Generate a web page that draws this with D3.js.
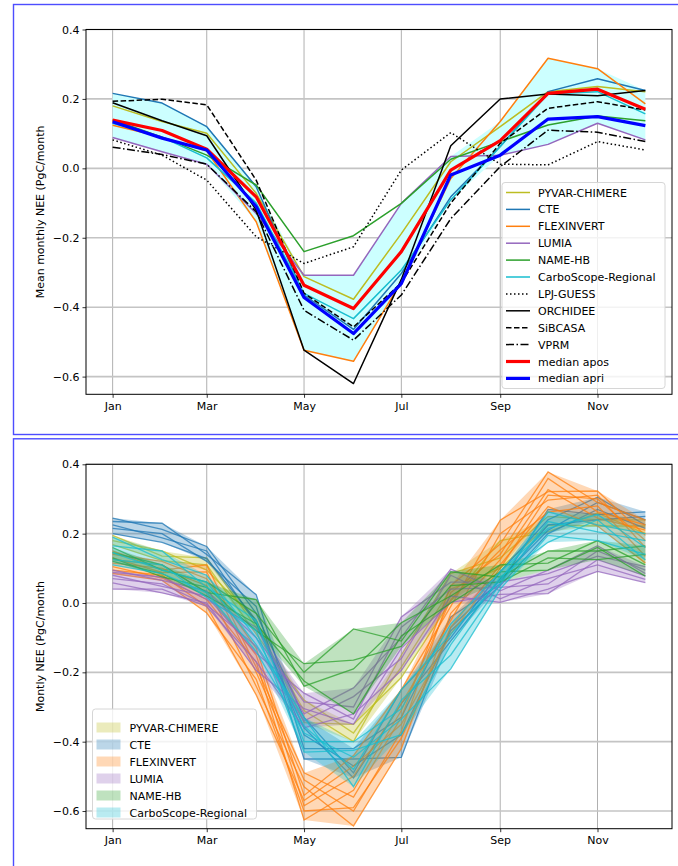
<!DOCTYPE html>
<html><head><meta charset="utf-8">
<script src="https://cdn.jsdelivr.net/npm/d3@7"></script>
<style>
html,body{margin:0;padding:0;background:#fff;}
svg{display:block;font-family:"DejaVu Sans",sans-serif;}
</style></head>
<body>
<svg id="chart" width="678" height="866"></svg>
<script>
// ---------- DATA ----------
const monthIdx = [0,1,2,3,4,5,6,7,8,9,10,11];
const tickMonths = [0,2,4,6,8,10];
const tickLabels = ["Jan","Mar","May","Jul","Sep","Nov"];
const yTicks = [0.4,0.2,0.0,-0.2,-0.4,-0.6];

// top panel: per-model mean series
const pyvarChimere = [0.180,0.135,0.101,-0.072,-0.312,-0.377,-0.188,0.019,0.120,0.221,0.236,0.221];
const cte          = [0.216,0.188,0.120,-0.053,-0.365,-0.464,-0.303,-0.082,0.063,0.221,0.258,0.224];
const flexinvert   = [0.124,0.090,0.050,-0.154,-0.524,-0.556,-0.327,-0.029,0.135,0.317,0.287,0.186];
const lumia        = [0.089,0.048,0.012,-0.130,-0.308,-0.308,-0.101,0.034,0.038,0.069,0.130,0.082];
const nameHB       = [0.140,0.090,0.038,-0.048,-0.240,-0.194,-0.101,0.026,0.077,0.125,0.151,0.137];
const carboScope   = [0.130,0.090,0.030,-0.100,-0.360,-0.433,-0.293,-0.091,0.063,0.214,0.221,0.157];
const lpjGuess     = [0.082,0.038,-0.034,-0.197,-0.274,-0.226,-0.005,0.103,0.012,0.010,0.077,0.053];
const orchidee     = [0.189,0.137,0.094,-0.120,-0.524,-0.620,-0.320,0.065,0.200,0.214,0.209,0.224];
const sibcasa      = [0.193,0.199,0.183,-0.034,-0.360,-0.457,-0.330,-0.100,0.072,0.173,0.192,0.168];
const vprm         = [0.061,0.040,0.012,-0.125,-0.409,-0.495,-0.365,-0.145,0.005,0.110,0.104,0.077];
const medianApos   = [0.139,0.109,0.055,-0.082,-0.337,-0.404,-0.240,-0.005,0.080,0.216,0.228,0.170];
const medianApri   = [0.134,0.087,0.053,-0.110,-0.372,-0.476,-0.332,-0.019,0.038,0.142,0.149,0.123];

// bottom panel: ensemble members per inversion system
const pyvarMembers = [
  [0.195,0.135,0.130,-0.070,-0.310,-0.400,-0.150,0.085,0.130,0.250,0.240,0.240],
  [0.180,0.150,0.095,-0.050,-0.345,-0.350,-0.215,0.005,0.180,0.205,0.260,0.200],
  [0.168,0.122,0.110,-0.090,-0.280,-0.375,-0.185,0.040,0.100,0.225,0.222,0.222]
];
const cteMembers = [
  [0.245,0.212,0.163,-0.030,-0.330,-0.490,-0.250,-0.100,0.090,0.240,0.305,0.225],
  [0.235,0.230,0.140,0.024,-0.420,-0.420,-0.330,-0.040,0.055,0.270,0.255,0.263],
  [0.225,0.188,0.150,-0.060,-0.360,-0.505,-0.290,-0.110,0.070,0.210,0.290,0.240],
  [0.215,0.200,0.120,-0.010,-0.450,-0.450,-0.445,-0.070,0.065,0.225,0.240,0.250],
  [0.200,0.175,0.128,-0.050,-0.380,-0.470,-0.380,-0.080,0.050,0.200,0.270,0.215]
];
const flexMembers = [
  [0.150,0.095,0.110,-0.185,-0.490,-0.560,-0.330,0.050,0.170,0.378,0.290,0.239],
  [0.140,0.120,0.070,-0.130,-0.555,-0.440,-0.250,-0.010,0.239,0.321,0.323,0.195],
  [0.130,0.088,0.090,-0.200,-0.510,-0.600,-0.370,0.030,0.140,0.359,0.263,0.225],
  [0.125,0.110,0.030,-0.150,-0.585,-0.500,-0.290,-0.050,0.200,0.297,0.311,0.160],
  [0.115,0.100,0.050,-0.240,-0.530,-0.643,-0.420,-0.030,0.125,0.327,0.245,0.210],
  [0.105,0.072,0.010,-0.170,-0.626,-0.540,-0.310,0.010,0.153,0.262,0.280,0.135],
  [0.095,0.080,-0.010,-0.265,-0.570,-0.470,-0.350,-0.090,0.100,0.311,0.300,0.180],
  [0.085,0.065,-0.029,-0.220,-0.600,-0.590,-0.390,-0.070,0.110,0.278,0.222,0.115]
];
const lumiaMembers = [
  [0.095,0.065,0.035,-0.100,-0.285,-0.300,-0.040,0.060,0.060,0.085,0.135,0.105],
  [0.088,0.075,0.010,-0.070,-0.320,-0.245,-0.100,0.098,0.035,0.095,0.165,0.085],
  [0.080,0.048,0.020,-0.145,-0.260,-0.335,-0.070,0.040,0.045,0.055,0.150,0.095],
  [0.070,0.055,-0.005,-0.125,-0.340,-0.270,-0.160,0.080,0.012,0.070,0.110,0.068],
  [0.058,0.029,0.000,-0.195,-0.305,-0.350,-0.130,0.002,0.025,0.027,0.125,0.078],
  [0.040,0.040,-0.010,-0.170,-0.360,-0.320,-0.195,0.020,0.002,0.040,0.091,0.059]
];
const nameMembers = [
  [0.160,0.095,0.060,-0.030,-0.200,-0.075,-0.110,0.090,0.075,0.150,0.150,0.165],
  [0.145,0.110,0.030,0.010,-0.240,-0.190,-0.057,0.020,0.110,0.115,0.180,0.110],
  [0.130,0.075,0.045,-0.080,-0.175,-0.165,-0.125,0.050,0.060,0.130,0.125,0.140],
  [0.120,0.085,0.020,-0.060,-0.225,-0.320,-0.095,0.000,0.090,0.095,0.160,0.077]
];
const carboMembers = [
  [0.190,0.125,0.080,-0.100,-0.355,-0.480,-0.250,-0.090,0.065,0.263,0.225,0.200],
  [0.165,0.150,0.045,-0.050,-0.400,-0.400,-0.305,-0.060,0.090,0.215,0.255,0.160],
  [0.145,0.095,0.060,-0.120,-0.330,-0.530,-0.280,-0.150,0.055,0.235,0.205,0.180],
  [0.125,0.110,0.015,-0.080,-0.430,-0.425,-0.380,-0.120,0.075,0.175,0.240,0.124],
  [0.110,0.085,0.030,-0.140,-0.375,-0.445,-0.335,-0.190,0.040,0.195,0.180,0.140]
];

// ---------- STYLE TABLES ----------
const topSeries = [
  {name:"PYVAR-CHIMERE", v:pyvarChimere, color:"#bcbd22", w:1.5, dash:null},
  {name:"CTE", v:cte, color:"#1f77b4", w:1.5, dash:null},
  {name:"FLEXINVERT", v:flexinvert, color:"#ff7f0e", w:1.5, dash:null},
  {name:"LUMIA", v:lumia, color:"#9467bd", w:1.5, dash:null},
  {name:"NAME-HB", v:nameHB, color:"#2ca02c", w:1.5, dash:null},
  {name:"CarboScope-Regional", v:carboScope, color:"#17becf", w:1.5, dash:null},
  {name:"LPJ-GUESS", v:lpjGuess, color:"#000", w:1.5, dash:"1.5,2.5"},
  {name:"ORCHIDEE", v:orchidee, color:"#000", w:1.5, dash:null},
  {name:"SiBCASA", v:sibcasa, color:"#000", w:1.5, dash:"5.5,2.5"},
  {name:"VPRM", v:vprm, color:"#000", w:1.5, dash:"8,2.5,1.5,2.5"},
  {name:"median apos", v:medianApos, color:"#ff0000", w:3.2, dash:null},
  {name:"median apri", v:medianApri, color:"#0000ff", w:3.2, dash:null}
];
const envelopeModels = [pyvarChimere, cte, flexinvert, lumia, carboScope];
const ensembles = [
  {name:"PYVAR-CHIMERE", m:pyvarMembers, color:"#bcbd22"},
  {name:"CTE", m:cteMembers, color:"#1f77b4"},
  {name:"FLEXINVERT", m:flexMembers, color:"#ff7f0e"},
  {name:"LUMIA", m:lumiaMembers, color:"#9467bd"},
  {name:"NAME-HB", m:nameMembers, color:"#2ca02c"},
  {name:"CarboScope-Regional", m:carboMembers, color:"#17becf"}
];

// ---------- DRAW ----------
const FS = "11px";
const svg = d3.select("#chart");
const day = 86400000;
const t0 = Date.UTC(2018,0,1);
const dateOf = m => new Date(Date.UTC(2018, m, 1));

// blue panel frames
svg.append("rect").attr("x",13.5).attr("y",4.5).attr("width",700).attr("height",430)
  .attr("fill","none").attr("stroke","#4d4dff").attr("stroke-width",1.4);
svg.append("rect").attr("x",13.5).attr("y",438.8).attr("width",700).attr("height",440)
  .attr("fill","none").attr("stroke","#4d4dff").attr("stroke-width",1.4);

function makePanel(top, bottom, ylabel) {
  const x = d3.scaleUtc().domain([new Date(t0 - 16.7*day), new Date(t0 + 350.7*day)]).range([86, 672]);
  const y = d3.scaleLinear().domain([-0.651, 0.4]).range([bottom, top]);
  const g = svg.append("g");
  g.append("g").selectAll("line").data(tickMonths).join("line")
    .attr("x1", d => x(dateOf(d))).attr("x2", d => x(dateOf(d)))
    .attr("y1", top).attr("y2", bottom).attr("stroke","#b0b0b0").attr("stroke-width",1);
  g.append("g").selectAll("line").data(yTicks).join("line")
    .attr("x1",86).attr("x2",672).attr("y1", d => y(d)).attr("y2", d => y(d))
    .attr("stroke","#c4c4c4").attr("stroke-width",1.6);
  const cid = "clip" + Math.round(top);
  svg.append("clipPath").attr("id", cid).append("rect")
    .attr("x",86).attr("y",top).attr("width",586).attr("height",bottom-top);
  const plot = svg.append("g").attr("clip-path", `url(#${cid})`);
  return {x, y, g, plot, top, bottom, ylabel};
}

function finishPanel(p) {
  const axX = svg.append("g").attr("transform",`translate(0,${p.bottom})`)
    .call(d3.axisBottom(p.x).tickValues(tickMonths.map(dateOf)).tickFormat((d,i)=>tickLabels[i]).tickSize(3.5).tickPadding(4));
  const axY = svg.append("g").attr("transform",`translate(86,0)`)
    .call(d3.axisLeft(p.y).tickValues(yTicks).tickFormat(d3.format(".1f")).tickSize(3.5).tickPadding(3));
  [axX, axY].forEach(a => {
    a.select(".domain").remove();
    a.selectAll("line").attr("stroke","#000").attr("stroke-width",0.8);
    a.selectAll("text").attr("font-size",FS).attr("fill","#000").attr("font-family","DejaVu Sans");
  });
  svg.append("rect").attr("x",86).attr("y",p.top).attr("width",586).attr("height",p.bottom-p.top)
    .attr("fill","none").attr("stroke","#000").attr("stroke-width",1);
  svg.append("text").attr("transform",`translate(44,${(p.top+p.bottom)/2}) rotate(-90)`)
    .attr("text-anchor","middle").attr("font-size",FS).attr("fill","#000").text(p.ylabel);
}

// ---- top panel ----
const P1 = makePanel(29.5, 394.3, "Mean monthly NEE (PgC/month");
const env = monthIdx.map(i => ({m:i, lo:d3.min(envelopeModels, s=>s[i]), hi:d3.max(envelopeModels, s=>s[i])}));
P1.plot.append("path").datum(env)
  .attr("d", d3.area().x(d=>P1.x(dateOf(d.m))).y0(d=>P1.y(d.lo)).y1(d=>P1.y(d.hi)))
  .attr("fill","#ccffff").attr("stroke","none");
const line1 = d3.line().x((d,i)=>P1.x(dateOf(i))).y(d=>P1.y(d));
topSeries.forEach(s => {
  P1.plot.append("path").datum(s.v).attr("d", line1).attr("fill","none")
    .attr("stroke", s.color).attr("stroke-width", s.w)
    .attr("stroke-dasharray", s.dash).attr("stroke-linejoin","round");
});
finishPanel(P1);
{
  const lg = svg.append("g");
  lg.append("rect").attr("x",502).attr("y",182.5).attr("width",163).attr("height",206).attr("rx",3)
    .attr("fill","#fff").attr("fill-opacity",0.8).attr("stroke","#d6d6d6").attr("stroke-width",1);
  topSeries.forEach((s,i) => {
    const yy = 192.5 + i*16.9;
    lg.append("line").attr("x1",506).attr("x2",530).attr("y1",yy).attr("y2",yy)
      .attr("stroke",s.color).attr("stroke-width",s.w).attr("stroke-dasharray",s.dash);
    lg.append("text").attr("x",538).attr("y",yy+4).attr("font-size",FS).attr("fill","#000").text(s.name);
  });
}

// ---- bottom panel ----
const P2 = makePanel(464.3, 828.7, "Montly NEE (PgC/month");
const line2 = d3.line().x((d,i)=>P2.x(dateOf(i))).y(d=>P2.y(d));
ensembles.forEach(e => {
  const band = monthIdx.map(i => ({m:i, lo:d3.min(e.m, r=>r[i]), hi:d3.max(e.m, r=>r[i])}));
  P2.plot.append("path").datum(band)
    .attr("d", d3.area().x(d=>P2.x(dateOf(d.m))).y0(d=>P2.y(d.lo)).y1(d=>P2.y(d.hi)))
    .attr("fill", e.color).attr("fill-opacity",0.3);
  e.m.forEach(r => {
    P2.plot.append("path").datum(r).attr("d", line2).attr("fill","none")
      .attr("stroke", e.color).attr("stroke-opacity",0.75).attr("stroke-width",1.3);
  });
});
finishPanel(P2);
{
  const lg = svg.append("g");
  lg.append("rect").attr("x",92.5).attr("y",709).attr("width",164).attr("height",110).attr("rx",3)
    .attr("fill","#fff").attr("fill-opacity",0.8).attr("stroke","#d6d6d6").attr("stroke-width",1);
  ensembles.forEach((e,i) => {
    const yy = 727.5 + i*17;
    lg.append("rect").attr("x",96.5).attr("y",yy-5).attr("width",24).attr("height",10)
      .attr("fill",e.color).attr("fill-opacity",0.3);
    lg.append("text").attr("x",129.5).attr("y",yy+4).attr("font-size",FS).attr("fill","#000").text(e.name);
  });
}
</script>
</body></html>
